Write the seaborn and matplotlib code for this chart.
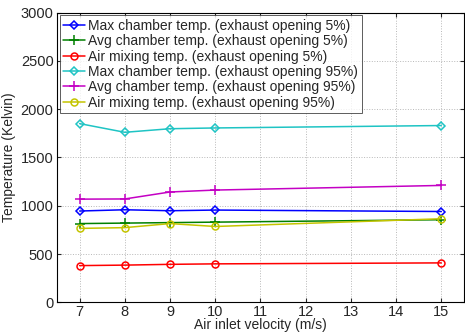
import matplotlib
matplotlib.use("Agg")
import matplotlib.pyplot as plt
import seaborn as sns
import pandas as pd

# Air inlet velocity (m/s)
velocity = [7, 8, 9, 10, 15]

# Temperatures (Kelvin)
max_chamber_5 = [945, 958, 948, 955, 940]
avg_chamber_5 = [815, 820, 825, 830, 855]
air_mixing_5 = [380, 385, 393, 398, 408]
max_chamber_95 = [1850, 1760, 1797, 1805, 1830]
avg_chamber_95 = [1068, 1070, 1142, 1162, 1210]
air_mixing_95 = [765, 773, 815, 785, 865]

labels = [
    "Max chamber temp. (exhaust opening 5%)",
    "Avg chamber temp. (exhaust opening 5%)",
    "Air mixing temp. (exhaust opening 5%)",
    "Max chamber temp. (exhaust opening 95%)",
    "Avg chamber temp. (exhaust opening 95%)",
    "Air mixing temp. (exhaust opening 95%)",
]
series = [max_chamber_5, avg_chamber_5, air_mixing_5,
          max_chamber_95, avg_chamber_95, air_mixing_95]
colors = ["#0000ff", "#008000", "#ff0000", "#1fc4c4", "#c400c4", "#c4c400"]
markers = ["D", "+", "o", "D", "+", "o"]
msizes = [4, 6.5, 5, 4, 6.5, 5]

sns.set_style("ticks")
plt.rcParams["font.family"] = ["Liberation Sans", "DejaVu Sans"]

fig = plt.figure(figsize=(4.65, 3.34), dpi=100)
ax = fig.add_axes([0.1226, 0.0949, 0.875, 0.8676])

for lab, vals, c, m, ms in zip(labels, series, colors, markers, msizes):
    df = pd.DataFrame({"v": velocity, "t": vals})
    sns.lineplot(data=df, x="v", y="t", ax=ax, color=c, marker=m,
                 markersize=ms, markerfacecolor="none", markeredgecolor=c,
                 markeredgewidth=1.1, linewidth=1.1, label=lab)

ax.set_xlim(6.5, 15.5)
ax.set_ylim(0, 3000)
ax.set_xticks(range(7, 16))
ax.set_yticks(range(0, 3001, 500))
ax.tick_params(direction="in", top=True, right=True, labelsize=10.5, length=3,
               width=0.8)
ax.tick_params(axis="x", pad=2)
ax.tick_params(axis="y", pad=2.5)
ax.grid(True, linestyle=":", color="#b8b8b8", linewidth=0.7)
for s in ax.spines.values():
    s.set_linewidth(0.8)
    s.set_color("black")

ax.set_xlabel("Air inlet velocity (m/s)", fontsize=10, labelpad=-1)
ax.set_ylabel("Temperature (Kelvin)", fontsize=10, labelpad=3)

leg = ax.legend(loc="upper left", fontsize=10, frameon=True, fancybox=False,
                borderaxespad=0.2, handlelength=1.6, handletextpad=0.2,
                labelspacing=0.1, borderpad=0.25)
leg.get_frame().set_edgecolor("#333333")
leg.get_frame().set_linewidth(0.7)

fig.savefig("out.png", dpi=100)
